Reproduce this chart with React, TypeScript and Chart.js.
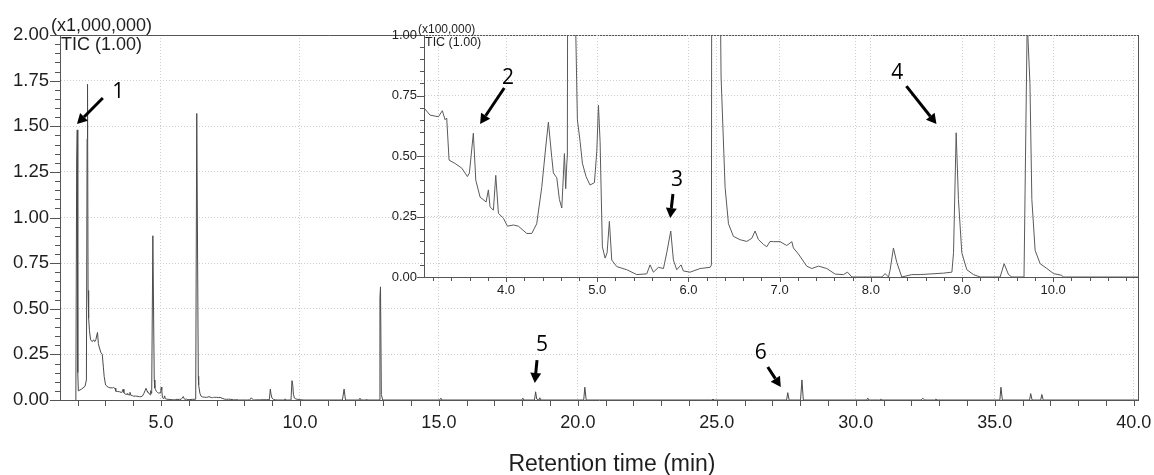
import React, { useEffect, useRef } from "react";
import { Chart, registerables } from "chart.js";

Chart.register(...registerables);

const FONT = '"Liberation Sans", Arial, sans-serif';
const MARK_FONT = '"Open Sans", "Liberation Sans", sans-serif';

// Retention time (min) and TIC intensity (units of 100,000 counts)
const retentionTimes = [
  1.94, 1.97, 1.99, 2.01, 2.03, 2.15, 2.27, 2.32, 2.345, 2.36, 2.38, 2.4, 2.43, 2.47, 2.53, 2.58, 2.62, 2.66, 2.7, 2.72,
  2.75, 2.78, 2.84, 2.89, 2.93, 2.96, 3.01, 3.104, 3.166, 3.258, 3.301, 3.331, 3.349, 3.375, 3.441, 3.514, 3.576, 3.598,
  3.641, 3.668, 3.715, 3.781, 3.806, 3.824, 3.861, 3.887, 3.916, 3.971, 4.015, 4.081, 4.135, 4.227, 4.282, 4.336, 4.391,
  4.435, 4.464, 4.501, 4.519, 4.556, 4.585, 4.611, 4.622, 4.64, 4.654, 4.666, 4.672, 4.71, 4.76, 4.782, 4.812, 4.837,
  4.877, 4.921, 4.969, 4.995, 5.013, 5.031, 5.056, 5.086, 5.108, 5.133, 5.159, 5.214, 5.324, 5.433, 5.543, 5.579, 5.616,
  5.671, 5.726, 5.762, 5.806, 5.835, 5.872, 5.919, 5.944, 6.018, 6.128, 6.238, 6.252, 6.29, 6.345, 6.358, 6.402, 6.439,
  6.493, 6.567, 6.64, 6.695, 6.731, 6.767, 6.822, 6.859, 6.895, 6.932, 7.005, 7.078, 7.134, 7.151, 7.206, 7.297, 7.353,
  7.426, 7.517, 7.609, 7.7, 7.744, 7.792, 8.121, 8.157, 8.194, 8.212, 8.248, 8.285, 8.34, 8.45, 8.541, 8.797, 8.889,
  8.907, 8.936, 8.961, 8.998, 9.053, 9.126, 9.199, 9.418, 9.462, 9.51, 9.547, 9.68, 9.715, 9.745, 9.766, 9.802, 9.857,
  9.931, 10.004, 10.095, 10.11, 11.53, 11.59, 11.64, 12.12, 12.16, 12.2, 12.37, 12.4, 12.43, 12.85, 12.88, 12.9, 12.93,
  12.98, 15.03, 15.07, 15.11, 17.98, 18.02, 18.06, 18.44, 18.48, 18.52, 18.6, 18.63, 18.67, 20.21, 20.25, 20.3, 24.82,
  24.86, 24.9, 27.51, 27.55, 27.6, 28.01, 28.06, 28.11, 30.39, 30.43, 30.47, 30.86, 30.9, 30.94, 32.35, 32.41, 32.47,
  32.84, 32.88, 32.92, 35.18, 35.22, 35.27, 36.25, 36.29, 36.34, 36.65, 36.69, 36.74, 40.15,
];
const ticCounts = [
  0, 13.1, 14.8, 1.5, 0.5, 0.6, 0.75, 1.1, 14.3, 17.3, 6.0, 4.5, 3.8, 3.3, 3.2, 3.3, 3.2, 3.3, 3.6, 3.7,
  3.1, 2.9, 2.6, 2.5, 1.8, 1.28, 0.82, 0.697, 0.669, 0.662, 0.687, 0.65, 0.657, 0.483, 0.469, 0.45, 0.415, 0.43,
  0.594, 0.4, 0.33, 0.31, 0.36, 0.29, 0.276, 0.42, 0.263, 0.243, 0.21, 0.215, 0.21, 0.18, 0.18, 0.22, 0.37,
  0.537, 0.64, 0.495, 0.43, 0.41, 0.32, 0.285, 0.37, 0.51, 0.365, 0.47, 0.5, 9.0, 1.1, 0.65, 0.56, 0.47,
  0.415, 0.38, 0.39, 0.52, 0.71, 0.56, 0.125, 0.078, 0.1, 0.23, 0.07, 0.043, 0.03, 0.01, 0.013, 0.05, 0.02,
  0.04, 0.035, 0.1, 0.19, 0.07, 0.03, 0.05, 0.025, 0.02, 0.035, 0.04, 0.05, 15.7, 1.3, 0.826, 0.37, 0.22,
  0.168, 0.154, 0.147, 0.16, 0.19, 0.155, 0.135, 0.125, 0.147, 0.146, 0.146, 0.13, 0.146, 0.12, 0.095, 0.045, 0.035,
  0.045, 0.035, 0.012, 0.01, 0.02, 0, 0, 0.014, 0, 0.03, 0.12, 0.06, 0, 0.01, 0.01, 0.016, 0.02,
  0.1, 0.596, 0.32, 0.1, 0.03, 0.01, 0, 0, 0.055, 0.01, 0, 0, 1.06, 0.8, 0.32, 0.11, 0.055,
  0.035, 0.014, 0.007, 0, 0, 0.6, 0, 0, 0.1, 0, 0, 0.05, 0, 0, 5.6, 6.2, 0.3,
  0, 0, 0.1, 0, 0, 0.1, 0, 0, 0.45, 0.05, 0, 0.12, 0, 0, 0.7, 0, 0,
  0.05, 0, 0, 0.4, 0, 0, 1.1, 0, 0, 0.1, 0, 0, 0.05, 0, 0, 0.1, 0,
  0, 0.05, 0, 0, 0.7, 0, 0, 0.35, 0, 0, 0.3, 0, 0,
];

const mainXTicks = [5, 10, 15, 20, 25, 30, 35, 40];
const mainYTicks = [0, 0.25, 0.5, 0.75, 1, 1.25, 1.5, 1.75, 2];
const insetXTicks = [4, 5, 6, 7, 8, 9, 10];
const insetYTicks = [0, 0.25, 0.5, 0.75, 1];

const mainMarkerLabels = ["1", "5", "6"];
const mainMarkerText = [[3.47, 1.688], [18.71, 0.299], [26.58, 0.255]];
const mainArrowFrom = [[2.91, 1.655], [18.53, 0.219], [26.83, 0.181]];
const mainArrowTo = [[1.98, 1.512], [18.45, 0.093], [27.3, 0.071]];

const insetMarkerLabels = ["2", "3", "4"];
const insetMarkerText = [[4.02, 0.824], [5.875, 0.4], [8.29, 0.841]];
const insetArrowFrom = [[3.98, 0.781], [5.83, 0.343], [8.39, 0.789]];
const insetArrowTo = [[3.715, 0.632], [5.8, 0.244], [8.72, 0.632]];

const AXIS = "#555";
const GRID = "#cdcdcd";
const TEXT = "#1e1e1e";

function fit(size: number, horizontal: boolean) {
  return (s: any) => {
    if (horizontal) s.height = size;
    else s.width = size;
    s.paddingLeft = 0;
    s.paddingRight = 0;
    s.paddingTop = 0;
    s.paddingBottom = 0;
  };
}

function drawArrow(ctx: CanvasRenderingContext2D, x1: number, y1: number, x2: number, y2: number) {
  const ang = Math.atan2(y2 - y1, x2 - x1);
  const head = 10;
  const hw = 5.5;
  const bx = x2 - head * Math.cos(ang);
  const by = y2 - head * Math.sin(ang);
  ctx.strokeStyle = "#000";
  ctx.fillStyle = "#000";
  ctx.lineWidth = 3;
  ctx.setLineDash([]);
  ctx.beginPath();
  ctx.moveTo(x1, y1);
  ctx.lineTo(bx, by);
  ctx.stroke();
  ctx.beginPath();
  ctx.moveTo(x2, y2);
  ctx.lineTo(bx + hw * Math.sin(ang), by - hw * Math.cos(ang));
  ctx.lineTo(bx - hw * Math.sin(ang), by + hw * Math.cos(ang));
  ctx.closePath();
  ctx.fill();
}

type DecorCfg = {
  id: string;
  xMinor: number[];
  xMajorSet: number[];
  xLen: [number, number];
  yMinor: number[];
  yLen: [number, number];
  yMajorStep: number;
  frame: boolean;
  texts: { text: string; dx: number; dy: number; size: number }[];
  labels: string[];
  labelPos: number[][];
  arrowFrom: number[][];
  arrowTo: number[][];
  title?: string;
};

function decorPlugin(cfg: DecorCfg) {
  return {
    id: cfg.id,
    afterDraw(chart: any) {
      const { ctx, chartArea: a, scales } = chart;
      const xs = scales.x;
      const ys = scales.y;
      ctx.save();
      ctx.strokeStyle = AXIS;
      ctx.lineWidth = 1;
      ctx.setLineDash([]);
      if (cfg.frame) {
        ctx.beginPath();
        ctx.moveTo(a.left, a.top + 0.5);
        ctx.lineTo(a.right + 1, a.top + 0.5);
        ctx.moveTo(a.right + 0.5, a.top);
        ctx.lineTo(a.right + 0.5, a.bottom + 1);
        ctx.stroke();
      }
      ctx.beginPath();
      for (const v of cfg.xMinor) {
        const px = Math.round(xs.getPixelForValue(v)) + 0.5;
        const isMajor = cfg.xMajorSet.some((m) => Math.abs(m - v) < 1e-6);
        const len = isMajor ? cfg.xLen[1] : cfg.xLen[0];
        ctx.moveTo(px, a.bottom);
        ctx.lineTo(px, a.bottom + len);
      }
      for (const v of cfg.yMinor) {
        const py = Math.round(ys.getPixelForValue(v)) + 0.5;
        const r = v / cfg.yMajorStep;
        const isMajor = Math.abs(r - Math.round(r)) < 1e-6;
        const len = isMajor ? cfg.yLen[1] : cfg.yLen[0];
        ctx.moveTo(a.left - len, py);
        ctx.lineTo(a.left, py);
      }
      ctx.stroke();

      ctx.fillStyle = TEXT;
      ctx.textBaseline = "alphabetic";
      ctx.textAlign = "left";
      for (const t of cfg.texts) {
        ctx.font = `${t.size}px ${FONT}`;
        ctx.fillText(t.text, a.left + t.dx, a.top + t.dy);
      }

      if (cfg.title) {
        ctx.font = `23px ${FONT}`;
        ctx.textAlign = "center";
        ctx.fillText(cfg.title, (a.left + a.right) / 2 + 13, chart.height - 4);
      }

      ctx.font = `21px ${MARK_FONT}`;
      ctx.textAlign = "center";
      ctx.textBaseline = "middle";
      ctx.fillStyle = "#000";
      cfg.labels.forEach((lab, i) => {
        const [tx, ty] = cfg.labelPos[i];
        ctx.fillText(lab, xs.getPixelForValue(tx), ys.getPixelForValue(ty));
        const [fx, fy] = cfg.arrowFrom[i];
        const [gx, gy] = cfg.arrowTo[i];
        drawArrow(
          ctx,
          xs.getPixelForValue(fx),
          ys.getPixelForValue(fy),
          xs.getPixelForValue(gx),
          ys.getPixelForValue(gy)
        );
      });
      ctx.restore();
    },
  };
}

function range(from: number, to: number, step: number) {
  const out: number[] = [];
  const n = Math.round((to - from) / step);
  for (let i = 0; i <= n; i++) out.push(+(from + i * step).toFixed(4));
  return out;
}

export default function App() {
  const mainRef = useRef<HTMLCanvasElement>(null);
  const insetRef = useRef<HTMLCanvasElement>(null);

  useEffect(() => {
    const mainData = retentionTimes.map((t, i) => ({ x: t, y: ticCounts[i] / 10 }));
    const insetData = retentionTimes.map((t, i) => ({ x: t, y: ticCounts[i] }));

    const common = {
      responsive: false,
      animation: false as const,
      devicePixelRatio: 1,
      events: [] as any[],
      plugins: { legend: { display: false }, tooltip: { enabled: false } },
    };

    const mainChart = new Chart(mainRef.current!, {
      type: "line",
      data: {
        datasets: [
          {
            data: mainData,
            borderColor: "#4a4a4a",
            borderWidth: 1,
            pointRadius: 0,
            tension: 0,
            fill: false,
          },
        ],
      },
      options: {
        ...common,
        layout: { padding: { left: 0, top: 35, right: 16, bottom: 0 } },
        scales: {
          x: {
            type: "linear",
            min: 1.37,
            max: 40.15,
            afterBuildTicks: (s: any) => {
              s.ticks = mainXTicks.map((value) => ({ value }));
            },
            afterFit: fit(75, true),
            ticks: {
              callback: (v: any) => Number(v).toFixed(1),
              font: { family: FONT, size: 18 },
              color: TEXT,
              padding: 12,
              maxRotation: 0,
              autoSkip: false,
            },
            grid: { color: GRID, lineWidth: 1, drawTicks: false },
            border: { display: true, color: AXIS, width: 1, dash: [1, 2] },
          },
          y: {
            type: "linear",
            min: 0,
            max: 2,
            afterBuildTicks: (s: any) => {
              s.ticks = mainYTicks.map((value) => ({ value }));
            },
            afterFit: fit(60, false),
            ticks: {
              callback: (v: any) => Number(v).toFixed(2),
              font: { family: FONT, size: 18.5 },
              color: TEXT,
              padding: 11,
              autoSkip: false,
            },
            grid: { color: GRID, lineWidth: 1, drawTicks: false },
            border: { display: true, color: AXIS, width: 1, dash: [1, 2] },
          },
        },
      },
      plugins: [
        decorPlugin({
          id: "mainDecor",
          xMinor: range(2, 40, 1),
          xMajorSet: mainXTicks,
          xLen: [6, 6],
          yMinor: range(0, 2, 0.05),
          yLen: [5, 10],
          yMajorStep: 0.25,
          frame: true,
          texts: [
            { text: "(x1,000,000)", dx: -9, dy: -4, size: 18 },
            { text: "TIC (1.00)", dx: 1, dy: 15, size: 18 },
          ],
          labels: mainMarkerLabels,
          labelPos: mainMarkerText,
          arrowFrom: mainArrowFrom,
          arrowTo: mainArrowTo,
          title: "Retention time (min)",
        }),
      ],
    } as any);

    const insetChart = new Chart(insetRef.current!, {
      type: "line",
      data: {
        datasets: [
          {
            data: insetData,
            borderColor: "#5a5a5a",
            borderWidth: 1,
            pointRadius: 0,
            tension: 0,
            fill: false,
            clip: 0,
          },
        ],
      },
      options: {
        ...common,
        layout: { padding: { left: 384, top: 35, right: 16, bottom: 168 } },
        scales: {
          x: {
            type: "linear",
            min: 3.1,
            max: 10.93,
            afterBuildTicks: (s: any) => {
              s.ticks = insetXTicks.map((value) => ({ value }));
            },
            afterFit: fit(30, true),
            ticks: {
              callback: (v: any) => Number(v).toFixed(1),
              font: { family: FONT, size: 13 },
              color: TEXT,
              padding: 6,
              maxRotation: 0,
              autoSkip: false,
            },
            grid: { color: GRID, lineWidth: 1, drawTicks: false },
            border: { display: true, color: AXIS, width: 1, dash: [1, 2] },
          },
          y: {
            type: "linear",
            min: 0,
            max: 1,
            afterBuildTicks: (s: any) => {
              s.ticks = insetYTicks.map((value) => ({ value }));
            },
            afterFit: fit(40, false),
            ticks: {
              callback: (v: any) => Number(v).toFixed(2),
              font: { family: FONT, size: 13 },
              color: TEXT,
              padding: 7,
              autoSkip: false,
            },
            grid: { color: GRID, lineWidth: 1, drawTicks: false },
            border: { display: true, color: AXIS, width: 1, dash: [1, 2] },
          },
        },
      },
      plugins: [
        decorPlugin({
          id: "insetDecor",
          xMinor: range(3.2, 10.8, 0.2),
          xMajorSet: insetXTicks,
          xLen: [4, 5],
          yMinor: range(0, 1, 0.05),
          yLen: [4, 7],
          yMajorStep: 0.25,
          frame: false,
          texts: [
            { text: "(x100,000)", dx: -6, dy: -2, size: 12 },
            { text: "TIC (1.00)", dx: 1, dy: 11, size: 12.5 },
          ],
          labels: insetMarkerLabels,
          labelPos: insetMarkerText,
          arrowFrom: insetArrowFrom,
          arrowTo: insetArrowTo,
        }),
      ],
    } as any);

    return () => {
      mainChart.destroy();
      insetChart.destroy();
    };
  }, []);

  return (
    <div
      style={{
        position: "fixed",
        left: 0,
        top: 0,
        width: 1154,
        height: 475,
        background: "#fff",
        overflow: "hidden",
      }}
    >
      <canvas
        ref={mainRef}
        width={1154}
        height={475}
        style={{ position: "absolute", left: 0, top: 0, width: 1154, height: 475 }}
      />
      <canvas
        ref={insetRef}
        width={1154}
        height={475}
        style={{ position: "absolute", left: 0, top: 0, width: 1154, height: 475 }}
      />
    </div>
  );
}
